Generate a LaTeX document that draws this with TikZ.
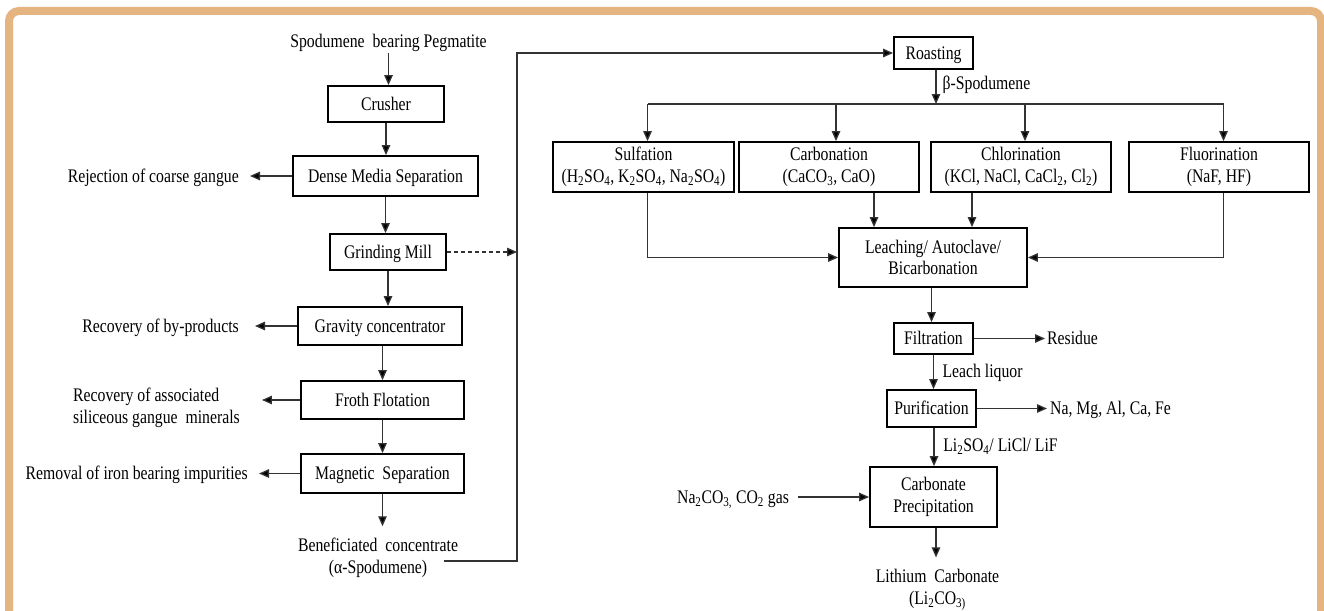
\documentclass[tikz,border=0pt]{standalone}
\usepackage{fontspec}
\setmainfont[FakeStretch=0.82]{Liberation Serif}
\usetikzlibrary{arrows.meta,calc}
\definecolor{frameC}{RGB}{229,181,129}
\begin{document}
\begin{tikzpicture}[x=1pt,y=-1pt,
  every node/.style={font=\fontsize{19.2}{21.5}\selectfont, inner sep=0pt},
  t1/.style={text height=12.7pt, text depth=0pt},
  t2/.style={align=center},
  box/.style={draw=black, line width=1.8pt, align=center, fill=white},
  conn/.style={line width=1.3pt, draw=black!80},
  arr/.style={conn, -{Triangle[length=10pt,width=8.5pt,fill=black]}}]

\useasboundingbox (0,0) rectangle (1324,610);
\clip (0,0) rectangle (1324,610);
\fill[white] (0,0) rectangle (1324,610);
\draw[line width=8pt, draw=frameC, rounded corners=10pt] (9,11) rectangle (1321,660);

% ---------- beneficiation ----------
\node[t1] (src) at (388.5,41) {Spodumene\ \ bearing Pegmatite};
\node[box, minimum width=116pt, minimum height=36pt, t1] (crusher) at (386,104) {Crusher};
\node[box, minimum width=185pt, minimum height=40pt, t1] (dms) at (385.5,176) {Dense Media Separation};
\node[box, minimum width=116pt, minimum height=36pt, t1] (mill) at (388,252) {Grinding Mill};
\node[box, minimum width=164pt, minimum height=38pt, t1] (grav) at (380,326) {Gravity concentrator};
\node[box, minimum width=163pt, minimum height=38pt, t1] (froth) at (382.5,400) {Froth Flotation};
\node[box, minimum width=163pt, minimum height=39pt, t1] (mag) at (382.5,473.5) {Magnetic\ \ Separation};
\node[t2] (benef) at (378,558) {Beneficiated\ \ concentrate\\(α-Spodumene)};

\node[t1, anchor=east] (reject) at (239,176) {Rejection of coarse gangue};
\node[t1, anchor=east] (byprod) at (239,326) {Recovery of by-products};
\node[anchor=west, align=left] (assoc) at (73,408) {Recovery of associated\\siliceous gangue\ \ minerals};
\node[t1, anchor=east] (iron) at (248,473.5) {Removal of iron bearing impurities};

\draw[arr, shorten <=5pt] (src.south) -- (src.south |- crusher.north);
\draw[arr] (crusher.south) -- (crusher.south |- dms.north);
\draw[arr] (dms.south) -- (dms.south |- mill.north);
\draw[arr] (mill.south) -- (mill.south |- grav.north);
\draw[arr] (grav.south -| froth.north) -- (froth.north);
\draw[arr] (froth.south) -- (froth.south |- mag.north);
\draw[arr, shorten >=12pt] (mag.south) -- (mag.south |- benef.north);

\draw[arr, shorten >=11pt] (dms.west) -- (reject.east);
\draw[arr, shorten >=16pt] (grav.west) -- (byprod.east);
\draw[arr, shorten >=22pt] (froth.west) -- (froth.west -| assoc.east);
\draw[arr, shorten >=11pt] (mag.west) -- (iron.east);

% ---------- transfer to roasting ----------
\node[box, minimum width=79pt, minimum height=32pt, t1] (roast) at (933.5,53) {Roasting};
\coordinate (rise) at (517,561);
\coordinate (bstart) at (444,561);
\draw[arr] (bstart) -- (rise) -- (rise |- roast.west) -- (roast.west);
\draw[arr, dash pattern=on 4pt off 3pt] (mill.east) -- (mill.east -| rise);

% ---------- extraction routes ----------
\coordinate (bus) at (936,104);
\node[t1] (beta) at (986.5,83) {β-Spodumene};
\draw[arr] (roast.south -| bus) -- (bus);

\node[box, minimum width=181pt, minimum height=50pt] (sulf) at (643.5,167)
  {Sulfation\\(H\textsubscript{2}SO\textsubscript{4}, K\textsubscript{2}SO\textsubscript{4}, Na\textsubscript{2}SO\textsubscript{4})};
\node[box, minimum width=180pt, minimum height=50pt] (carb) at (829,167)
  {Carbonation\\(CaCO\textsubscript{3}, CaO)};
\node[box, minimum width=180pt, minimum height=50pt] (chlor) at (1021,167)
  {Chlorination\\(KCl, NaCl, CaCl\textsubscript{2}, Cl\textsubscript{2})};
\node[box, minimum width=180pt, minimum height=50pt] (fluor) at (1219,167)
  {Fluorination\\(NaF, HF)};

\draw[conn] ([xshift=4pt]sulf.north |- bus) -- ([xshift=4.5pt]fluor.north |- bus);
\draw[arr] ([xshift=4pt]sulf.north |- bus) -- ([xshift=4pt]sulf.north);
\draw[arr] ([xshift=7pt]carb.north |- bus) -- ([xshift=7pt]carb.north);
\draw[arr] ([xshift=4pt]chlor.north |- bus) -- ([xshift=4pt]chlor.north);
\draw[arr] ([xshift=4.5pt]fluor.north |- bus) -- ([xshift=4.5pt]fluor.north);

\node[box, minimum width=188pt, minimum height=59pt] (leach) at (933,257.5)
  {Leaching/ Autoclave/\\Bicarbonation};

\draw[arr] ([xshift=4pt]sulf.south) |- (leach.west);
\draw[arr] ([xshift=4.5pt]fluor.south) |- (leach.east);
\draw[arr] ([xshift=45pt]carb.south) -- ([xshift=45pt]carb.south |- leach.north);
\draw[arr] ([xshift=-49pt]chlor.south) -- ([xshift=-49pt]chlor.south |- leach.north);

% ---------- recovery ----------
\node[box, minimum width=79pt, minimum height=31pt, t1] (filt) at (933.5,338.5) {Filtration};
\node[t1, anchor=west] (resid) at (1047,338.5) {Residue};
\node[t1] (liquor) at (982.5,371) {Leach liquor};
\node[box, minimum width=89pt, minimum height=37pt, t1] (purif) at (931.5,408.5) {Purification};
\node[t1, anchor=west] (imp) at (1050,408.5) {Na, Mg, Al, Ca, Fe};
\node[t1] (lisalt) at (1000.5,445) {Li\textsubscript{2}SO\textsubscript{4}/ LiCl/ LiF};
\node[box, minimum width=127pt, minimum height=60pt] (cprec) at (933.5,497) {Carbonate\\Precipitation};
\node[t1] (reag) at (733,497) {Na\textsubscript{2}CO\textsubscript{3,} CO\textsubscript{2} gas};
\node[t2] (prod) at (937.5,590) {Lithium\ \ Carbonate\\(Li\textsubscript{2}CO\textsubscript{3)}};

\draw[arr] ([xshift=-1.5pt]leach.south) -- ([xshift=-1.5pt]leach.south |- filt.north);
\draw[arr, shorten >=2pt] (filt.east) -- (resid.west);
\draw[arr] (filt.south) -- (filt.south |- purif.north);
\draw[arr, shorten >=3pt] (purif.east) -- (imp.west);
\draw[arr] ([xshift=2.5pt]purif.south) -- ([xshift=2.5pt]purif.south |- cprec.north);
\draw[arr, shorten <=9pt] (reag.east) -- (cprec.west);
\draw[arr, shorten >=12pt] ([xshift=2.5pt]cprec.south) -- ([xshift=2.5pt]cprec.south |- prod.north);
\end{tikzpicture}
\end{document}
